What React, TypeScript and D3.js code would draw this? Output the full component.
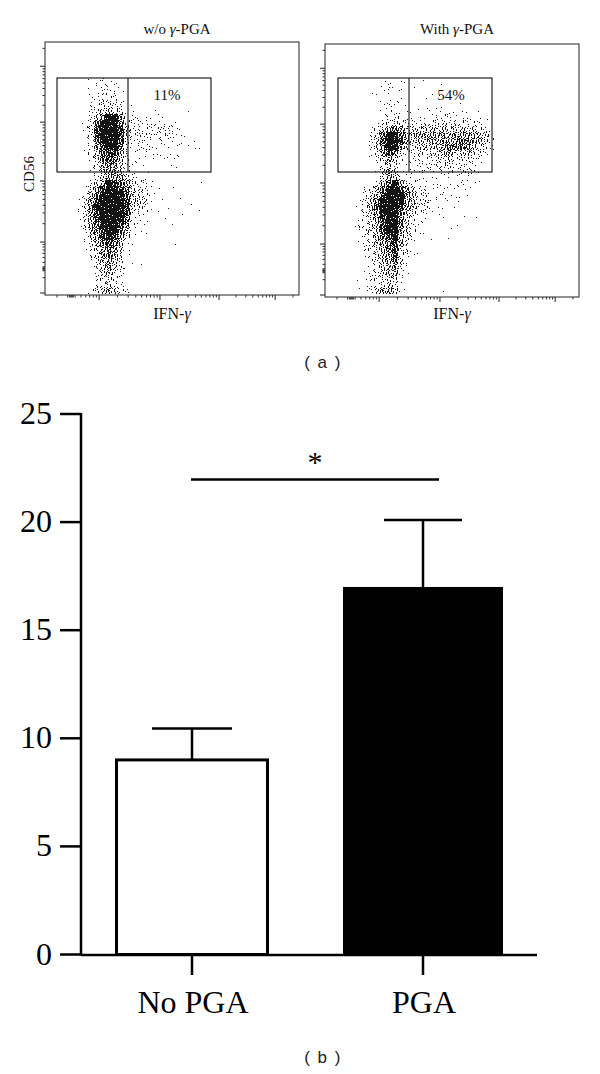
import React from 'react';
import * as d3 from 'd3';

// flow plots, estimated dot density per 6px cell (0 = empty, 9 = solid)
const densityNoPga = [
  '00011211000000000000000',
  '00011221100000000000000',
  '00011222100000000000000',
  '00012232100000000000000',
  '00022333201000000000000',
  '00023454311000100001000',
  '00024799622111110000000',
  '00137999732221211100000',
  '00238999853222232210000',
  '00138999843332232211000',
  '00027999832221121110100',
  '00026899721222111111110',
  '00125788621111111100000',
  '00024787521111011110000',
  '00013676421110001100000',
  '00012566421001000000000',
  '00002466642110000000000',
  '00024698764221000000010',
  '00146899874331100100000',
  '00257999975331100000000',
  '01368999985441010010000',
  '01379999984331001000100',
  '01368999983220100010010',
  '01368999972110010000000',
  '01267999862110000100000',
  '00257899751110000000000',
  '00146898641000000000000',
  '00135787511000000100000',
  '00124676410000000000000',
  '00024676310000000000000',
  '00013565301000000000000',
  '00003564310100000000000',
  '00002453200000000000000',
  '00002343100000000000000',
  '00002342200000000000000',
  '00023464320000000000000',
];

const densityWithPga = [
  '0000001101100100000000000',
  '0000001211010000100000000',
  '0000111101000011000000000',
  '0000001111000100000000000',
  '0000001211100000100100000',
  '0000001211111111111110100',
  '0000001222111112221111110',
  '0000012343222233333322200',
  '0000134676444444544444321',
  '0000247997656666656665542',
  '0000248998645565666776642',
  '0000247996434545677775332',
  '0000136873223334564454320',
  '0000124642122223343332200',
  '0000013431112223432222100',
  '0000014641021221222333100',
  '0000003642111111111110000',
  '0000025796321111111211100',
  '0002357998642211111111000',
  '0002358999753311211110000',
  '0013579999653321110100000',
  '0013589998653311101000000',
  '0013469997542211000000000',
  '0012468997421100100010100',
  '0122458997421100001000000',
  '0012458996431100010000000',
  '0002357895320010010000000',
  '0012356786310000000000000',
  '0002345784210000000000000',
  '0001245683211000000000000',
  '0000235674100000000000000',
  '0000134563100000000000000',
  '0001234562100000000000000',
  '0011233441000000000000000',
  '0001123431000000000000000',
  '0011246651100000100000000',
];

// how many of a cell's 36 pixels each density level inks, and in which order
const levelDots = [0, 1, 3, 5, 8, 11, 15, 20, 27, 34];
const pixelOrder = [14, 3, 27, 20, 33, 8, 23, 0, 17, 30, 11, 25, 5, 34, 19, 9, 28, 1, 22, 13, 31, 6, 16, 35, 10, 26, 2, 21, 32, 7, 15, 29, 4, 18, 24, 12];

const xDecades = [-25, 218, 463, 701, 927, 1165];
const yDecades = [8, 214, 461, 699, 925, 1165];
const tickCluster = [98, 102, 106, 110, 114];

const categories = ['No PGA', 'PGA'];
const means = [9, 17];
const errors = [1.45, 3.1];
const yTicks = [0, 5, 10, 15, 20, 25];

const SERIF = '"Liberation Serif", serif';
const SANS = '"Liberation Sans", sans-serif';

const minorTicks = (decades: number[]) => {
  const out: number[] = [...tickCluster];
  d3.pairs(decades).forEach(([a, b]) => {
    d3.range(2, 10).forEach(k => {
      const v = a + Math.log10(k) * (b - a);
      if (v > 0 && v < 1023) out.push(v);
    });
  });
  return out;
};

const FlowPlot = ({ left, top, title, label, pct, pctX, gateL, gateR, divider, density, gridX }: any) => {
  const w = 254;
  const h = 253;
  const x = d3.scaleLinear().domain([0, 1023]).range([left, left + w]);
  const y = d3.scaleLinear().domain([0, 1023]).range([top + h, top]);
  const col = d3.scaleLinear().domain([0, 1]).range([gridX, gridX + 6]);
  const row = d3.scaleLinear().domain([0, 1]).range([78, 84]);

  let dots = '';
  density.forEach((line: string, r: number) => {
    line.split('').forEach((c, i) => {
      const n = levelDots[+c];
      const start = (i * 7 + r * 13) % 36;
      for (let k = 0; k < n; k++) {
        const p = pixelOrder[(start + k) % 36];
        dots += `M${col(i) + (p % 6)},${row(r) + Math.floor(p / 6)}h1v1h-1z`;
      }
    });
  });

  const midX = left + w / 2;
  return (
    <g fontFamily={SERIF} fill="#111">
      <path d={dots} fill="#000" stroke="none" opacity={0.92} />
      <rect x={left} y={top} width={w} height={h} fill="none" stroke="#222" strokeWidth={1} />
      <rect x={gateL} y={78} width={gateR - gateL} height={94} fill="none" stroke="#222" strokeWidth={1.2} />
      <line x1={divider} x2={divider} y1={78} y2={172} stroke="#222" strokeWidth={1.2} />
      {xDecades.slice(1, 5).map(t => (
        <line key={t} x1={x(t)} x2={x(t)} y1={top + h} y2={top + h + 5} stroke="#222" />
      ))}
      {minorTicks(xDecades).map((t, i) => (
        <line key={i} x1={x(t)} x2={x(t)} y1={top + h} y2={top + h + 2.5} stroke="#333" />
      ))}
      {yDecades.slice(0, 5).map(t => (
        <line key={t} x1={left - 5} x2={left} y1={y(t)} y2={y(t)} stroke="#222" />
      ))}
      {minorTicks(yDecades).map((t, i) => (
        <line key={i} x1={left - 2.5} x2={left} y1={y(t)} y2={y(t)} stroke="#333" />
      ))}
      <text x={midX + 5} y={34} textAnchor="middle" fontSize={15}>
        {title} <tspan fontStyle="italic">γ</tspan>-PGA
      </text>
      <text x={midX} y={319} textAnchor="middle" fontSize={16}>
        {label}-<tspan fontStyle="italic">γ</tspan>
      </text>
      <text x={pctX} y={100} textAnchor="middle" fontSize={15}>{pct}</text>
    </g>
  );
};

export default function App() {
  const xBar = d3.scalePoint<string>().domain(categories).range([192, 423]);
  const yBar = d3.scaleLinear().domain([0, 25]).range([954.5, 414]);
  const halfW = [75.5, 80];
  const capW = [40, 39];

  return (
    <svg width={600} height={1074} style={{ position: 'absolute', left: 0, top: 0, background: '#fff' }}>
      <FlowPlot left={45} top={42} title="w/o" label="IFN" pct="11%" pctX={167} gateL={57} gateR={211} divider={128} density={densityNoPga} gridX={70} />
      <FlowPlot left={325} top={44} title="With" label="IFN" pct="54%" pctX={451} gateL={338} gateR={492} divider={409} density={densityWithPga} gridX={344} />
      <text transform="translate(34,174) rotate(-90)" textAnchor="middle" fontFamily={SERIF} fontSize={15} fill="#111">CD56</text>
      <text x={323} y={368} textAnchor="middle" fontFamily={SANS} fontSize={17} letterSpacing={1.5} fill="#222">( a )</text>

      <g stroke="#000" strokeWidth={2.5} fill="none">
        <line x1={81} x2={81} y1={yBar(25) - 1} y2={yBar(0) + 1} />
        <line x1={81} x2={537} y1={yBar(0) + 0.5} y2={yBar(0) + 0.5} />
        {yTicks.map(t => <line key={t} x1={60} x2={81} y1={yBar(t)} y2={yBar(t)} />)}
        {categories.map(c => <line key={c} x1={xBar(c)} x2={xBar(c)} y1={yBar(0)} y2={975} />)}
      </g>
      {categories.map((c, i) => (
        <g key={c}>
          <line x1={xBar(c)} x2={xBar(c)} y1={yBar(means[i])} y2={yBar(means[i] + errors[i])} stroke="#000" strokeWidth={2.5} />
          <line x1={xBar(c)! - capW[i]} x2={xBar(c)! + capW[i]} y1={yBar(means[i] + errors[i])} y2={yBar(means[i] + errors[i])} stroke="#000" strokeWidth={2.5} />
          <rect
            x={xBar(c)! - halfW[i]}
            y={yBar(means[i])}
            width={halfW[i] * 2}
            height={yBar(0) - yBar(means[i])}
            fill={i === 0 ? '#fff' : '#000'}
            stroke="#000"
            strokeWidth={i === 0 ? 3 : 0}
          />
        </g>
      ))}
      <g fontFamily={SERIF} fontSize={32} fill="#000">
        {yTicks.map(t => <text key={t} x={52} y={yBar(t) + 10} textAnchor="end">{t}</text>)}
        {categories.map(c => <text key={c} x={xBar(c)! + 1} y={1013} textAnchor="middle">{c}</text>)}
        <text x={315} y={472} textAnchor="middle" fontSize={30}>*</text>
      </g>
      <line x1={191} x2={439} y1={479.5} y2={479.5} stroke="#000" strokeWidth={2.5} />
      <text x={323} y={1063} textAnchor="middle" fontFamily={SANS} fontSize={17} letterSpacing={1.5} fill="#222">( b )</text>
    </svg>
  );
}
